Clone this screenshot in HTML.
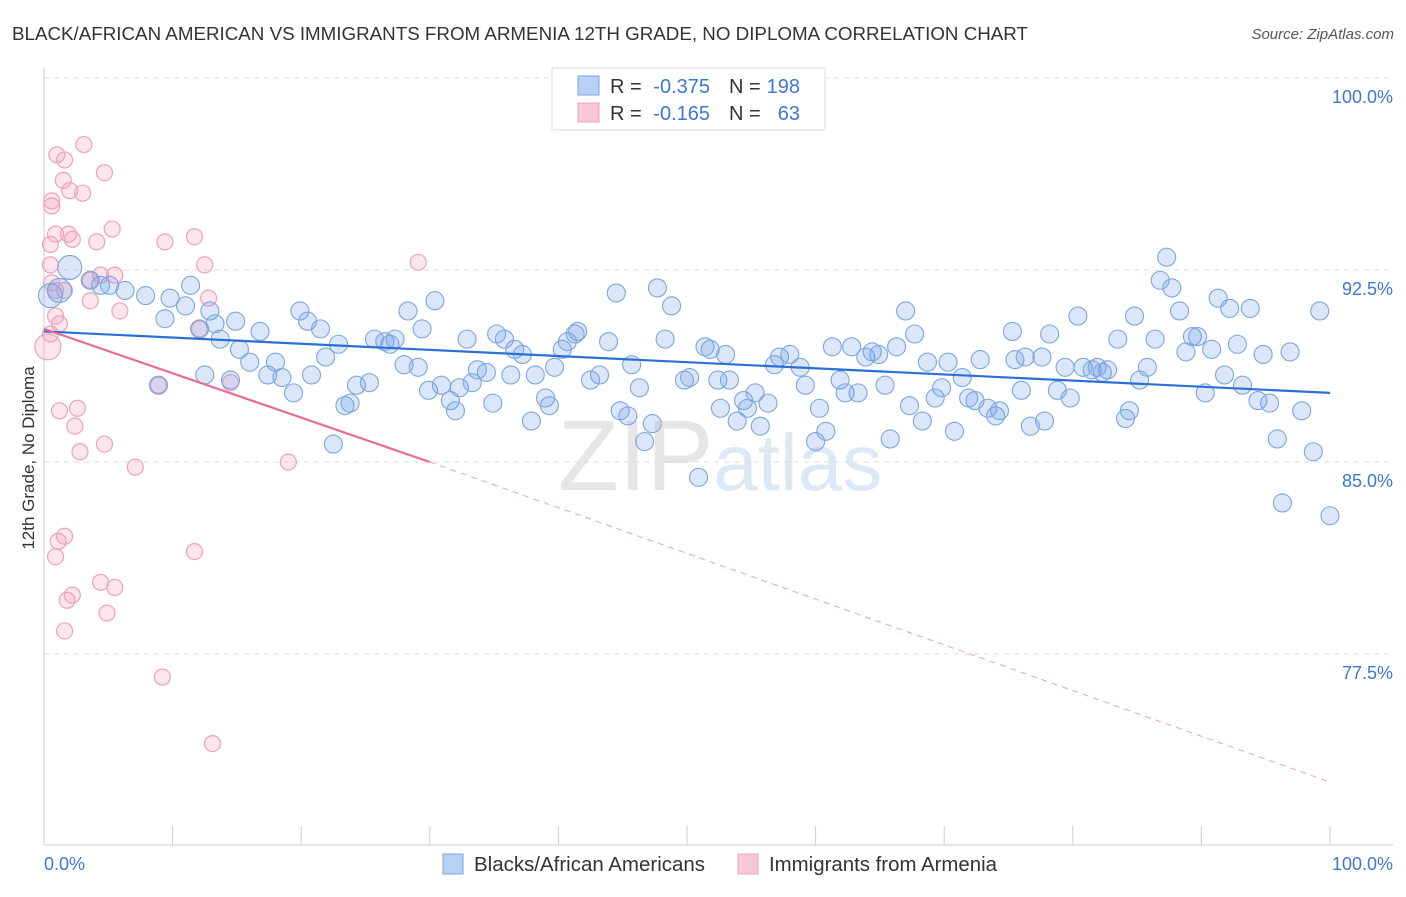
<!DOCTYPE html>
<html><head><meta charset="utf-8"><style>
body{margin:0;background:#fff;font-family:"Liberation Sans",sans-serif}
svg text{font-family:"Liberation Sans",sans-serif}
</style></head><body>
<svg id="chart" width="1406" height="892" xmlns="http://www.w3.org/2000/svg">
<text x="12" y="40" font-size="18" fill="#333" textLength="1016" lengthAdjust="spacingAndGlyphs">BLACK/AFRICAN AMERICAN VS IMMIGRANTS FROM ARMENIA 12TH GRADE, NO DIPLOMA CORRELATION CHART</text>
<text x="1394" y="39" font-size="15" fill="#555" text-anchor="end" font-style="italic">Source: ZipAtlas.com</text>
<text x="720" y="490" font-size="100" fill="#e6e6e6" text-anchor="middle" font-family="Liberation Serif">ZIP<tspan fill="#dde8f5" font-family="Liberation Sans" font-size="80">atlas</tspan></text>
<g id="grid"></g><g id="axes"></g><g id="pinkpts"></g><g id="bluepts"></g><g id="lines"></g>
<text transform="translate(34,458) rotate(-90)" font-size="17" fill="#333" text-anchor="middle">12th Grade, No Diploma</text>
<g>
<rect x="552" y="68" width="273" height="62" fill="#fff" stroke="#ddd"/>
<rect x="578" y="76" width="21" height="19" fill="#b8d2f5" stroke="#7aa6e0"/>
<rect x="578" y="103" width="21" height="19" fill="#f9c6d6" stroke="#f0a0bc"/>
<text x="610" y="93" font-size="20" fill="#333">R =</text>
<text x="710" y="93" font-size="20" fill="#3d77d6" text-anchor="end">-0.375</text>
<text x="729" y="93" font-size="20" fill="#333">N =</text>
<text x="800" y="93" font-size="20" fill="#3d77d6" text-anchor="end">198</text>
<text x="610" y="120" font-size="20" fill="#333">R =</text>
<text x="710" y="120" font-size="20" fill="#3d77d6" text-anchor="end">-0.165</text>
<text x="729" y="120" font-size="20" fill="#333">N =</text>
<text x="800" y="120" font-size="20" fill="#3d77d6" text-anchor="end">63</text>
</g>
<g>
<rect x="443" y="854" width="20" height="20" fill="#b8d2f5" stroke="#7aa6e0"/>
<text x="474" y="871" font-size="20" fill="#333" textLength="231" lengthAdjust="spacingAndGlyphs">Blacks/African Americans</text>
<rect x="738" y="854" width="20" height="20" fill="#f9c6d6" stroke="#f0a0bc"/>
<text x="769" y="871" font-size="20" fill="#333" textLength="228" lengthAdjust="spacingAndGlyphs">Immigrants from Armenia</text>
</g>
</svg>
<script>
const yTicks=[100,92.5,85,77.5];
const yTickLabels=["100.0%","92.5%","85.0%","77.5%"];
const xTickLabels=["0.0%","100.0%"];
const blueX=[0.5,2.0,1.2,3.6,4.4,5.1,6.3,7.9,9.4,9.8,11.0,11.4,12.1,12.9,13.3,14.9,13.7,12.5,14.5,15.2,16.0,16.8,17.4,18.0,18.5,19.4,19.9,20.5,21.5,21.9,20.8,22.9,23.4,23.8,22.5,24.3,25.3,25.7,26.5,26.9,27.3,28.0,28.3,29.1,29.4,30.4,29.9,30.9,31.6,32.0,32.3,32.9,33.3,33.7,34.4,34.9,35.2,35.8,36.3,36.6,37.2,37.9,38.2,39.0,39.3,39.7,40.3,40.7,41.3,41.5,42.5,43.2,43.9,44.5,44.8,45.4,45.7,46.3,46.7,47.3,47.7,48.3,48.8,49.8,50.2,50.9,51.4,51.8,52.4,52.6,53.0,53.3,53.9,54.4,54.7,55.3,55.7,56.3,56.8,57.2,58.0,58.8,59.2,60.0,60.3,60.8,61.3,61.9,62.3,62.8,63.3,63.9,64.4,64.9,65.4,65.8,66.3,67.0,67.3,67.7,68.3,68.7,69.3,69.8,70.3,70.8,71.4,71.9,72.4,72.8,73.4,74.0,74.3,75.3,75.5,76.0,76.3,76.7,77.6,77.8,78.2,78.8,79.4,79.8,80.4,80.8,81.5,81.9,82.3,82.7,83.5,84.1,84.4,84.8,85.2,85.8,86.4,86.8,87.3,87.7,88.3,88.8,89.3,89.7,90.3,90.8,91.3,91.8,92.2,92.8,93.2,93.8,94.4,94.8,95.3,95.9,96.3,96.9,97.8,98.7,99.2,100,8.9];
const blueY=[91.5,92.6,91.7,92.1,91.9,91.9,91.7,91.5,90.6,91.4,91.1,91.9,90.2,90.9,90.4,90.5,89.8,88.4,88.2,89.4,88.9,90.1,88.4,88.9,88.3,87.7,90.9,90.5,90.2,89.1,88.4,89.6,87.2,87.3,85.7,88.0,88.1,89.8,89.7,89.6,89.8,88.8,90.9,88.7,90.2,91.3,87.8,88.0,87.4,87.0,87.9,89.8,88.1,88.6,88.5,87.3,90.0,89.8,88.4,89.4,89.2,86.6,88.4,87.5,87.2,88.7,89.4,89.7,90.0,90.1,88.2,88.4,89.7,91.6,87.0,86.8,88.8,87.9,85.8,86.5,91.8,89.8,91.1,88.2,88.3,84.4,89.5,89.4,88.2,87.1,89.2,88.2,86.6,87.4,87.1,87.7,86.4,87.3,88.8,89.1,89.2,88.7,88.0,85.8,87.1,86.2,89.5,88.2,87.7,89.5,87.7,89.1,89.3,89.2,88.0,85.9,89.5,90.9,87.2,90.0,86.6,88.9,87.5,87.9,88.9,86.2,88.3,87.5,87.4,89.0,87.1,86.8,87.0,90.1,89.0,87.8,89.1,86.4,89.1,86.6,90.0,87.8,88.7,87.5,90.7,88.7,88.6,88.7,88.5,88.6,89.8,86.7,87.0,90.7,88.2,88.7,89.8,92.1,93.0,91.8,90.9,89.3,89.9,89.9,87.7,89.4,91.4,88.4,91.0,89.6,88.0,91.0,87.4,89.2,87.3,85.9,83.4,89.3,87.0,85.4,90.9,82.9,88.0];
const pinkX=[1.0,1.6,3.1,4.7,2.0,3.0,0.6,0.9,0.5,1.9,2.2,4.1,5.3,9.4,11.7,12.5,0.5,0.9,0.6,1.6,3.6,4.4,5.5,3.6,5.9,1.2,0.9,0.5,0.3,12.8,12.1,14.5,8.9,1.2,2.6,2.4,2.8,4.7,7.1,19.0,29.1,1.6,1.1,0.9,2.2,1.8,1.6,4.4,5.5,4.9,11.7,9.2,13.1,1.5,0.6];
const pinkY=[97.0,96.8,97.4,96.3,95.6,95.5,95.2,93.9,93.5,93.9,93.7,93.6,94.1,93.6,93.8,92.7,92.7,91.7,92.0,91.7,92.1,92.3,92.3,91.3,90.9,90.4,90.7,90.0,89.5,91.4,90.2,88.1,88.0,87.0,87.1,86.4,85.4,85.7,84.8,85.0,92.8,82.1,81.9,81.3,79.8,79.6,78.4,80.3,80.1,79.1,81.5,76.6,74.0,96.0,95.0];
const blueTrend=[90.1,87.7];
const pinkTrend=[90.2,85.0,72.5];
const NS="http://www.w3.org/2000/svg";
const sx=v=>44+v*12.86, sy=v=>78+(100-v)*25.6;
function mk(tag,attrs,parent){const e=document.createElementNS(NS,tag);for(const k in attrs)e.setAttribute(k,attrs[k]);document.getElementById(parent).appendChild(e);return e;}
yTicks.forEach((t,i)=>{
 const g=mk('line',{x1:44,x2:1393,y1:sy(t),y2:sy(t),stroke:'#ddd','stroke-dasharray':'5,5'},'grid');
 
 
 const l=mk('text',{x:1393,y:sy(t)+25,'font-size':18,fill:'#3d77d6','text-anchor':'end'},'grid');
 l.textContent=yTickLabels[i];
 
 
});
const ax=mk('line',{x1:44,x2:44,y1:68,y2:845,stroke:'#ccc'},'axes');


const bx=mk('line',{x1:44,x2:1393,y1:845,y2:845,stroke:'#ccc'},'axes');


for(let i=0;i<=10;i++){const t=mk('line',{x1:sx(i*10),x2:sx(i*10),y1:826,y2:845,stroke:'#ccc'},'axes');
 
 }
[[0,'start'],[100,'end']].forEach((d,i)=>{const t=mk('text',{x:i?1393:44,y:870,'font-size':18,fill:'#3d77d6','text-anchor':d[1]},'axes');t.textContent=xTickLabels[i];
 
 });
pinkX.forEach((x,i)=>{const c=mk('circle',{cx:sx(x),cy:sy(pinkY[i]),r:i==28?13:8,fill:'rgba(244,160,190,0.28)',stroke:'#f0a0bc','stroke-width':1.2},'pinkpts');
 
 });
blueX.forEach((x,i)=>{const c=mk('circle',{cx:sx(x),cy:sy(blueY[i]),r:i<3?12:9,fill:'rgba(110,160,230,0.25)',stroke:'#7aa6e0','stroke-width':1.1},'bluepts');
 
 });
const bl=mk('line',{x1:sx(0),y1:sy(blueTrend[0]),x2:sx(100),y2:sy(blueTrend[1]),stroke:'#2a6fd6','stroke-width':2.2},'lines');


const pl=mk('line',{x1:sx(0),y1:sy(pinkTrend[0]),x2:sx(30),y2:sy(pinkTrend[1]),stroke:'#e86a96','stroke-width':2.2},'lines');


const pd=mk('line',{x1:sx(30),y1:sy(pinkTrend[1]),x2:sx(100),y2:sy(pinkTrend[2]),stroke:'#eba0ba','stroke-width':1,'stroke-dasharray':'6,5'},'lines');


</script>
</body></html>
